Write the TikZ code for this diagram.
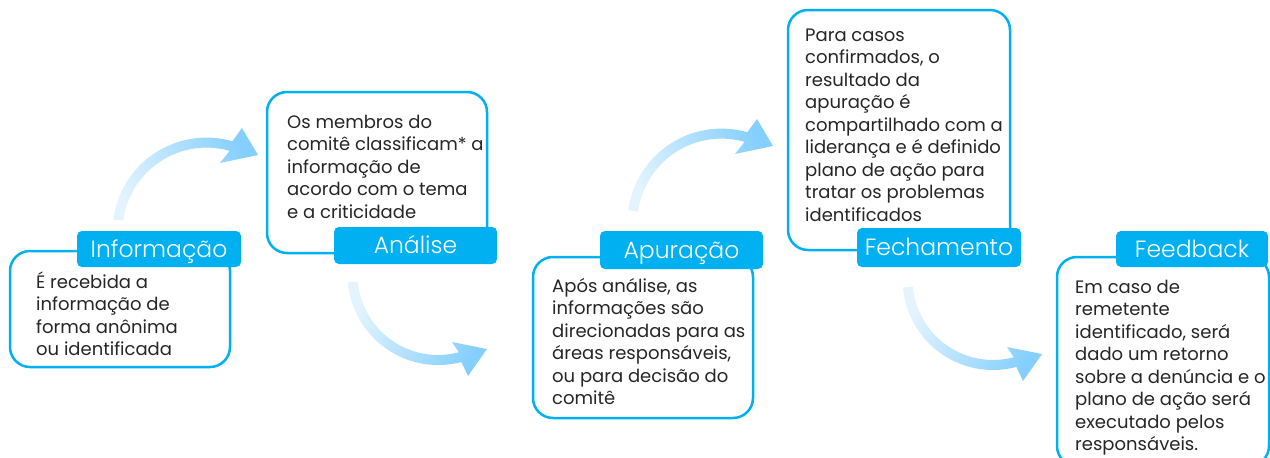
\documentclass[tikz,border=0pt]{standalone}
\usepackage{fontspec}
\setmainfont{Poppins}
\IfFontExistsTF{Poppins Light}{\newfontfamily\lblfont{Poppins Light}}{\newfontfamily\lblfont{Poppins}}
\usetikzlibrary{calc}
\definecolor{cyanb}{HTML}{00B0F0}
\definecolor{txt}{HTML}{262626}
\definecolor{arrlight}{HTML}{E4F4FE}
\definecolor{arrdark}{HTML}{84CFFD}
\newcommand{\bodylines}[1]{\vtop{\baselineskip=22.5pt\lineskiplimit=-20pt #1}}
\newcommand{\arrowUpPath}{(206.5,231.6) ++(-172.5:94) arc[start angle=-172.5, end angle=-74, radius=94] -- (242,128) -- (258,155) -- (220,163) -- ($(206.5,231.6)+(-74:84)$) arc[start angle=-74, end angle=-172.5, radius=84] -- cycle}
\newcommand{\arrowDownPath}{(438,274.6) ++(175:90.4) arc[start angle=175, end angle=75, radius=90.4] -- (468,376) -- (487,349) -- (452,342) -- ($(438,274.6)+(75:80.4)$) arc[start angle=75, end angle=175, radius=80.4] -- cycle}
\begin{document}
\begin{tikzpicture}[x=1pt,y=-1pt,
  box/.style={draw=cyanb, line width=2.5pt, rounded corners=20pt, fill=white, inner sep=0pt},
  tab/.style={fill=cyanb, rounded corners=5pt, inner sep=0pt, text=white, font=\lblfont\fontsize{23.5}{27}\selectfont, text height=16.2pt, text depth=0pt},
  body/.style={anchor=base west, inner sep=0pt, text=txt, font=\fontsize{18}{22.5}\selectfont},
  arrowup/.style={bottom color=arrlight, top color=arrdark, shading angle=-65},
  arrowdown/.style={bottom color=arrlight, top color=arrdark, shading angle=-116.6}]
\useasboundingbox (0,0) rectangle (1270,458);
\fill[white] (0,0) rectangle (1270,458);

% arrows
\shade[arrowup] \arrowUpPath;
\shade[arrowdown] \arrowDownPath;
\begin{scope}[shift={(515,-9)}]
\shade[arrowup] \arrowUpPath;
\end{scope}
\begin{scope}[shift={(555,5)}]
\shade[arrowdown] \arrowDownPath;
\end{scope}

% boxes
\node[box, minimum width=220pt, minimum height=116pt] (b1) at (120,309) {};
\node[box, minimum width=220pt, minimum height=161pt] (b2) at (377,172.5) {};
\node[box, minimum width=220pt, minimum height=161pt] (b3) at (643,337.5) {};
\node[box, minimum width=222pt, minimum height=240pt] (b4) at (899,130) {};
\node[box, minimum width=212pt, minimum height=209pt] (b5) at (1163,361.5) {};

% tabs
\node[tab, minimum width=164pt, minimum height=36pt] (t1) at (159,249) {Informação};
\node[tab, minimum width=163pt, minimum height=37pt] (t2) at (415.5,245.5) {Análise};
\node[tab, minimum width=163pt, minimum height=38pt] (t3) at (681.5,250) {Apuração};
\node[tab, minimum width=164pt, minimum height=39pt] (t4) at (939,247.5) {Fechamento};
\node[tab, minimum width=152pt, minimum height=36pt] (t5) at (1192,249) {Feedback};

% texts
\node[body] (x1) at (36,288) {\bodylines{\hbox{É recebida a}\hbox{informação de}\hbox{forma anônima}\hbox{ou identificada}}};
\node[body] (x2) at (287,128) {\bodylines{\hbox{Os membros do}\hbox{comitê classificam* a}\hbox{informação de}\hbox{acordo com o tema}\hbox{e a criticidade}}};
\node[body] (x3) at (552,292) {\bodylines{\hbox{Após análise, as}\hbox{informações são}\hbox{direcionadas para as}\hbox{áreas responsáveis,}\hbox{ou para decisão do}\hbox{comitê}}};
\node[body] (x4) at (805,41) {\bodylines{\hbox{Para casos}\hbox{confirmados, o}\hbox{resultado da}\hbox{apuração é}\hbox{compartilhado com a}\hbox{liderança e é definido}\hbox{plano de ação para}\hbox{tratar os problemas}\hbox{identificados}}};
\node[body] (x5) at (1075,293) {\bodylines{\hbox{Em caso de}\hbox{remetente}\hbox{identificado, será}\hbox{dado um retorno}\hbox{sobre a denúncia e o}\hbox{plano de ação será}\hbox{executado pelos}\hbox{responsáveis.}}};
\end{tikzpicture}
\end{document}
